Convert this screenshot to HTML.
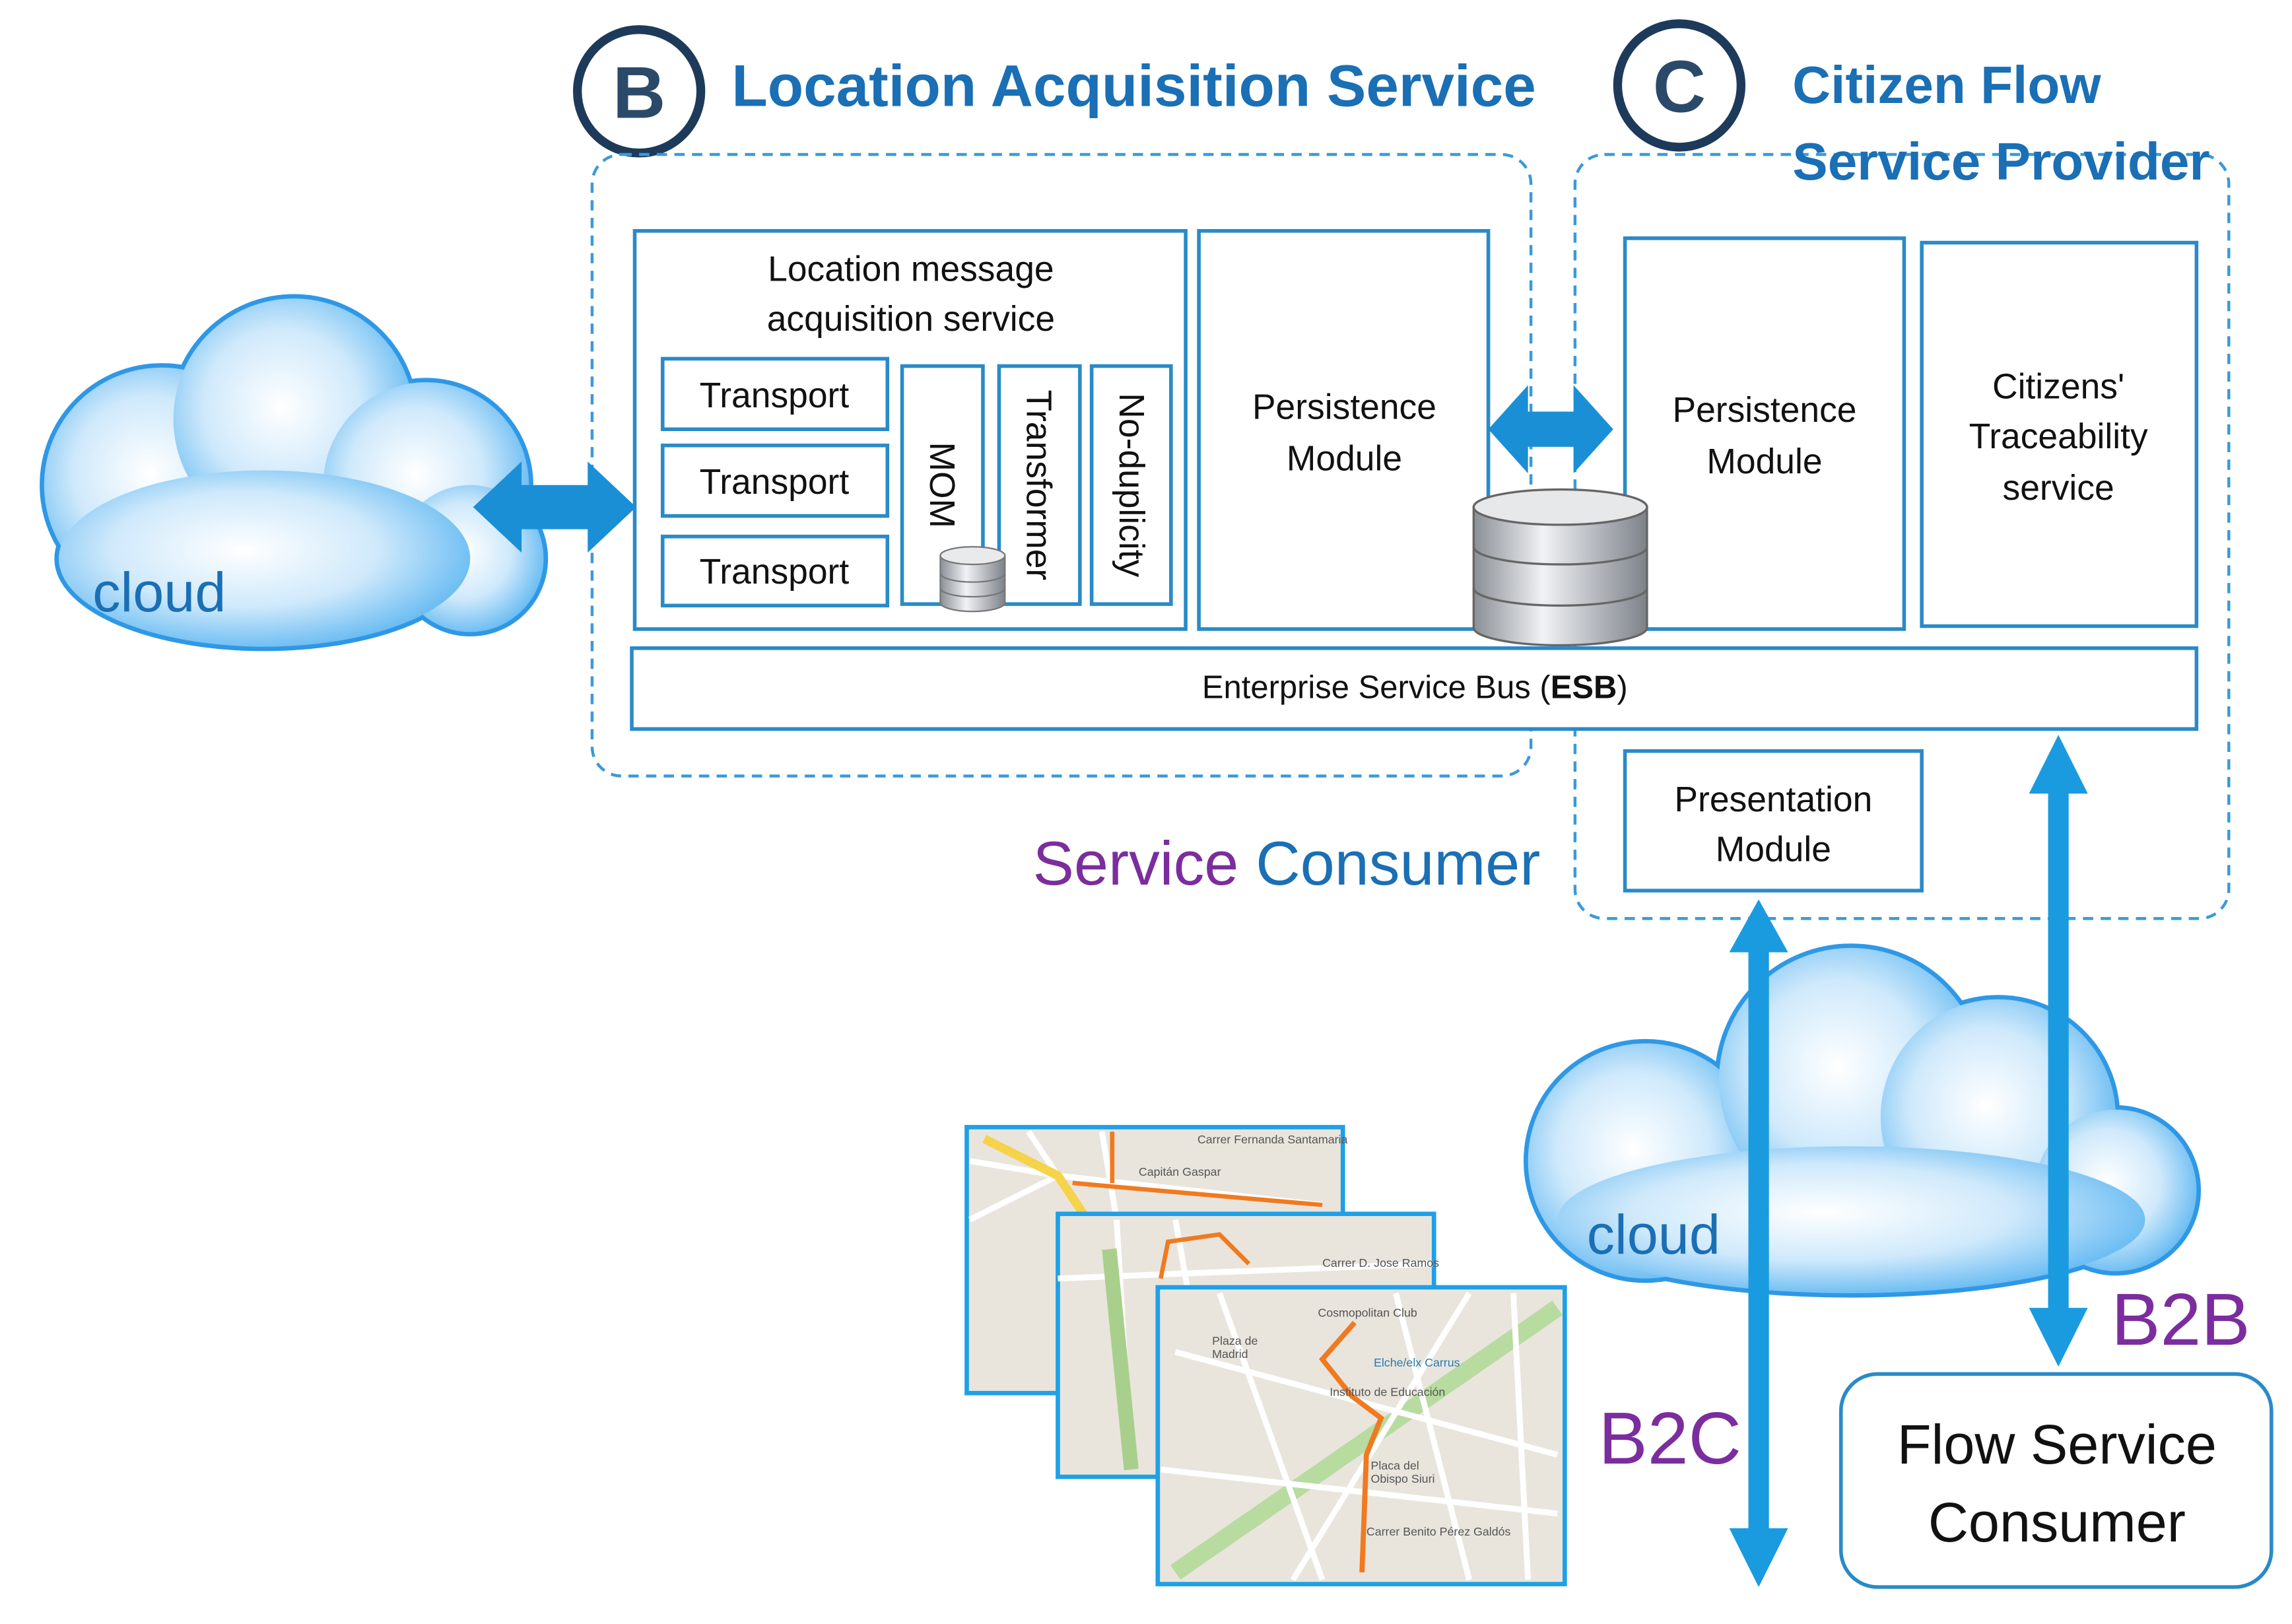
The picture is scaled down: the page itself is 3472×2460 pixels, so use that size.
<!DOCTYPE html>
<html><head><meta charset="utf-8"><style>
html,body{margin:0;padding:0;background:#fff}
svg{display:block}
text{font-family:"Liberation Sans",sans-serif}
</style></head><body>
<svg width="3472" height="2460" viewBox="0 0 1560 1105" xmlns="http://www.w3.org/2000/svg">
<defs>
<radialGradient id="cg" cx="0.45" cy="0.45" r="0.65">
<stop offset="0" stop-color="#ffffff"/><stop offset="0.5" stop-color="#cfe9fb"/><stop offset="1" stop-color="#4aaef0"/>
</radialGradient>
<linearGradient id="db" x1="0" x2="1">
<stop offset="0" stop-color="#8a8f96"/><stop offset="0.4" stop-color="#f0f2f4"/><stop offset="1" stop-color="#7d828a"/>
</linearGradient>
<g id="cloudshape">
<circle cx="0" cy="0" r="1"/>
</g>
</defs>
<rect width="1560" height="1105" fill="#fff"/>

<!-- left cloud -->
<g stroke="#2f98e6" stroke-width="6">
<circle cx="110" cy="330" r="80"/><circle cx="200" cy="285" r="82"/><circle cx="290" cy="330" r="70"/><circle cx="320" cy="380" r="50"/><ellipse cx="180" cy="380" rx="140" ry="60"/>
</g>
<g fill="url(#cg)">
<circle cx="110" cy="330" r="80"/><circle cx="200" cy="285" r="82"/><circle cx="290" cy="330" r="70"/><circle cx="320" cy="380" r="50"/><ellipse cx="180" cy="380" rx="140" ry="60"/>
</g>
<text x="63" y="416" font-size="38" fill="#1a6fb5">cloud</text>

<!-- right cloud -->
<g stroke="#2f98e6" stroke-width="6">
<circle cx="1120" cy="790" r="80"/><circle cx="1260" cy="735" r="90"/><circle cx="1360" cy="760" r="80"/><circle cx="1440" cy="810" r="55"/><ellipse cx="1260" cy="830" rx="200" ry="50"/>
</g>
<g fill="url(#cg)">
<circle cx="1120" cy="790" r="80"/><circle cx="1260" cy="735" r="90"/><circle cx="1360" cy="760" r="80"/><circle cx="1440" cy="810" r="55"/><ellipse cx="1260" cy="830" rx="200" ry="50"/>
</g>
<text x="1080" y="853" font-size="38" fill="#1a6fb5">cloud</text>

<!-- titles -->
<circle cx="435" cy="62" r="42" fill="#fff" stroke="#1e3a5a" stroke-width="6"/>
<text x="435" y="80" font-size="50" font-weight="bold" fill="#2b4a6a" text-anchor="middle">B</text>
<text x="498" y="72" font-size="40" font-weight="bold" fill="#1a6fb5">Location Acquisition Service</text>
<circle cx="1143" cy="58" r="42" fill="#fff" stroke="#1e3a5a" stroke-width="6"/>
<text x="1143" y="76" font-size="50" font-weight="bold" fill="#2b4a6a" text-anchor="middle">C</text>

<!-- dashed boxes -->
<rect x="403" y="105" width="639" height="423" rx="20" fill="none" stroke="#3a9ad9" stroke-width="2" stroke-dasharray="7,5"/>
<rect x="1072" y="105" width="445" height="520" rx="20" fill="none" stroke="#3a9ad9" stroke-width="2" stroke-dasharray="7,5"/>
<text x="1220" y="70" font-size="36" font-weight="bold" fill="#1a6fb5">Citizen Flow</text>
<text x="1220" y="122" font-size="36" font-weight="bold" fill="#1a6fb5">Service Provider</text>

<g fill="#fff" stroke="#2a8ac8" stroke-width="2.5">
<rect x="432" y="157" width="375" height="271"/>
<rect x="451" y="244" width="153" height="48"/>
<rect x="451" y="303" width="153" height="48"/>
<rect x="451" y="365" width="153" height="47"/>
<rect x="614" y="249" width="55" height="162"/>
<rect x="680" y="249" width="55" height="162"/>
<rect x="743" y="249" width="54" height="162"/>
<rect x="816" y="157" width="197" height="271"/>
<rect x="1106" y="162" width="190" height="266"/>
<rect x="1308" y="165" width="187" height="261"/>
<rect x="430" y="441" width="1065" height="55"/>
<rect x="1106" y="511" width="202" height="95"/>
</g>
<g font-size="24" fill="#111" text-anchor="middle">
<text x="620" y="191">Location message</text>
<text x="620" y="225">acquisition service</text>
<text x="527" y="277">Transport</text>
<text x="527" y="336">Transport</text>
<text x="527" y="397">Transport</text>
<text transform="translate(633,330) rotate(90)" font-size="24">MOM</text>
<text transform="translate(699,330) rotate(90)">Transformer</text>
<text transform="translate(762,330) rotate(90)">No-duplicity</text>
<text x="915" y="285">Persistence</text>
<text x="915" y="320">Module</text>
<text x="1201" y="287">Persistence</text>
<text x="1201" y="322">Module</text>
<text x="1401" y="271">Citizens'</text>
<text x="1401" y="305">Traceability</text>
<text x="1401" y="340">service</text>
<text x="963" y="475" font-size="22">Enterprise Service Bus (<tspan font-weight="bold">ESB</tspan>)</text>
<text x="1207" y="552">Presentation</text>
<text x="1207" y="586">Module</text>
</g>

<!-- small db -->
<g stroke="#777" stroke-width="1" fill="url(#db)">
<path d="M640 378 v32 a22 6 0 0 0 44 0 v-32 z"/>
<ellipse cx="662" cy="378" rx="22" ry="6" fill="#e8eaec"/>
<path d="M640 390 a22 6 0 0 0 44 0 M640 400 a22 6 0 0 0 44 0" fill="none"/>
</g>
<!-- big db -->
<g stroke="#666" stroke-width="1.5" fill="url(#db)">
<path d="M1003 345 v82 a59 12 0 0 0 118 0 v-82 z"/>
<ellipse cx="1062" cy="345" rx="59" ry="12" fill="#e6e8ea"/>
<path d="M1003 372 a59 12 0 0 0 118 0 M1003 400 a59 12 0 0 0 118 0" fill="none"/>
</g>

<!-- horizontal double arrows -->
<g fill="#1a8fd6">
<polygon points="322,345 355,314 355,330 400,330 400,314 433,345 400,376 400,360 355,360 355,376"/>
<polygon points="1013,292 1040,262 1040,280 1071,280 1071,262 1098,292 1071,322 1071,304 1040,304 1040,322"/>
</g>

<text x="703" y="602" font-size="42" fill="#7b2d9e">Service <tspan fill="#1a6fb5">Consumer</tspan></text>

<!-- vertical arrows -->
<g fill="#1a9be0">
<rect x="1190" y="645" width="14" height="400"/>
<polygon points="1177,648 1197,612 1217,648"/>
<polygon points="1177,1040 1197,1080 1217,1040"/>
<rect x="1394" y="535" width="14" height="360"/>
<polygon points="1381,540 1401,500 1421,540"/>
<polygon points="1381,890 1401,930 1421,890"/>
</g>
<text x="1088" y="996" font-size="50" fill="#7b2d9e">B2C</text>
<text x="1437" y="915" font-size="50" fill="#7b2d9e">B2B</text>

<rect x="1253" y="935" width="293" height="145" rx="25" fill="#fff" stroke="#2a8ac8" stroke-width="2.5"/>
<text x="1400" y="996" font-size="38" text-anchor="middle" fill="#111">Flow Service</text>
<text x="1400" y="1049" font-size="38" text-anchor="middle" fill="#111">Consumer</text>

<!-- maps -->
<g>
<rect x="658" y="767" width="256" height="181" fill="#e9e5dd" stroke="#1fa0e6" stroke-width="3"/>
<path d="M660 790 L720 800 L900 820 M700 770 L740 830 M750 770 L760 830 M660 830 L720 800" stroke="#fff" stroke-width="4" fill="none"/>
<path d="M670 775 L720 800 L740 830" stroke="#f5d34a" stroke-width="6" fill="none"/>
<path d="M730 805 L900 820 M757 770 L757 805" stroke="#f07a20" stroke-width="3" fill="none"/>
<rect x="720" y="826" width="256" height="179" fill="#e9e5dd" stroke="#1fa0e6" stroke-width="3"/>
<path d="M760 830 L770 1000 M720 870 L975 860 M800 830 L830 1000" stroke="#fff" stroke-width="4" fill="none"/>
<path d="M755 850 L770 1000" stroke="#a9cf8c" stroke-width="10" fill="none"/>
<path d="M790 870 L795 845 L830 840 L850 860" stroke="#f07a20" stroke-width="3" fill="none"/>
<rect x="788" y="876" width="277" height="202" fill="#e9e5dd" stroke="#1fa0e6" stroke-width="3"/>
<path d="M800 1070 L1060 890" stroke="#b8dba0" stroke-width="12" fill="none"/>
<path d="M800 920 L1060 990 M830 880 L900 1075 M950 880 L1000 1075 M1030 880 L1040 1075 M790 1000 L1060 1030 M880 1075 L1000 880" stroke="#fff" stroke-width="4" fill="none"/>
<path d="M922 900 L900 925 L920 950 L940 965 L930 990 L927 1070" stroke="#f07a20" stroke-width="3.5" fill="none"/>
<g font-size="8" fill="#555">
<text x="897" y="896">Cosmopolitan Club</text><text x="935" y="930" fill="#2a7ab0">Elche/elx Carrus</text>
<text x="825" y="915">Plaza de</text><text x="825" y="924">Madrid</text>
<text x="933" y="1000">Placa del</text><text x="933" y="1009">Obispo Siuri</text>
<text x="930" y="1045">Carrer Benito Pérez Galdós</text>
<text x="905" y="950">Instituto de Educación</text>
<text x="815" y="778">Carrer Fernanda Santamaria</text>
<text x="775" y="800">Capitán Gaspar</text>
<text x="900" y="862">Carrer D. Jose Ramos</text>
</g>
</g>
</svg>
</body></html>
